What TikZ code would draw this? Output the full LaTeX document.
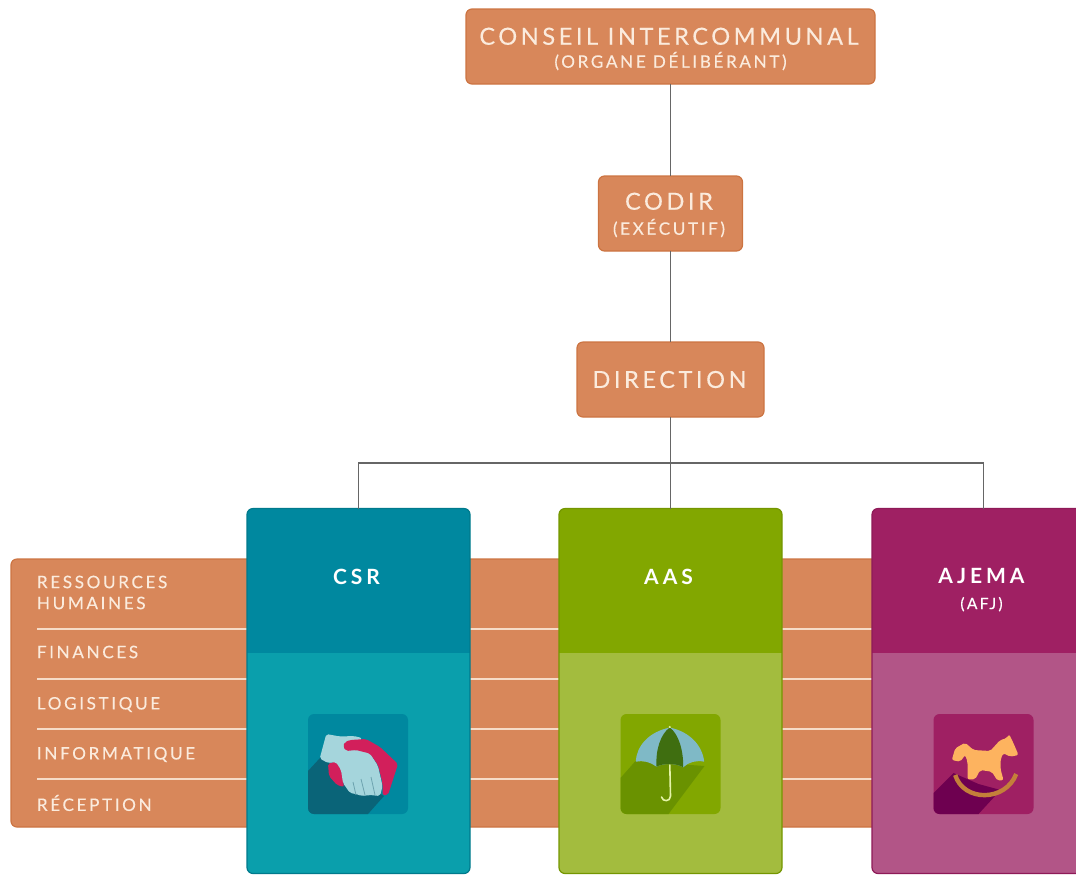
\documentclass[tikz,border=0pt]{standalone}
\usepackage{fontspec}
\setmainfont{Lato}
\newfontfamily\widefont[LetterSpace=15,FakeBold=0.2]{Lato}
\newfontfamily\titlefont[LetterSpace=19]{Lato Bold}
\usepackage{tikz}
\usetikzlibrary{positioning}
\definecolor{orgfill}{HTML}{D8875A}
\definecolor{orgedge}{HTML}{CC7442}
\definecolor{orgtext}{HTML}{FBEBDD}
\definecolor{orgline}{HTML}{F6DCC8}
\definecolor{linkgray}{HTML}{666666}
\definecolor{csrhead}{HTML}{00889F}
\definecolor{csrbody}{HTML}{0A9FAC}
\definecolor{csredge}{HTML}{007A8C}
\definecolor{csrshade}{HTML}{0A6478}
\definecolor{csrhand}{HTML}{A5D5DC}
\definecolor{csrred}{HTML}{D21F5B}
\definecolor{aashead}{HTML}{82A700}
\definecolor{aasbody}{HTML}{A3BC3E}
\definecolor{aasedge}{HTML}{749600}
\definecolor{aasshade}{HTML}{6A9200}
\definecolor{aasblue}{HTML}{7FB9C6}
\definecolor{aasdark}{HTML}{3F6E10}
\definecolor{aashandle}{HTML}{E4F3A8}
\definecolor{ajemahead}{HTML}{9F2063}
\definecolor{ajemabody}{HTML}{B25587}
\definecolor{ajemaedge}{HTML}{8E1A58}
\definecolor{ajemashade}{HTML}{6E0050}
\definecolor{ajemahorse}{HTML}{FDB35F}
\definecolor{ajemarock}{HTML}{C47F3A}
\tikzset{
	orgbox/.style={draw=orgedge, line width=0.6pt, outer sep=0pt, fill=orgfill, rounded corners=3pt, inner sep=0pt, align=center, minimum height=37.5pt, text=orgtext, font=\widefont\fontsize{11.8}{14}\selectfont},
	rowlabel/.style={anchor=west, inner sep=0pt, align=left, text=orgtext, font=\widefont\fontsize{8.6}{10.5}\selectfont},
	rowline/.style={orgline, line width=0.6pt},
	link/.style={linkgray, line width=0.75pt},
	columnbox/.style n args={2}{draw=#2, line width=0.6pt, outer sep=0pt, fill=#1, rounded corners=3pt, inner sep=0pt, minimum width=111.5pt, minimum height=182.5pt},
	headarea/.style={path picture={\fill[#1, sharp corners] (path picture bounding box.north west) rectangle ([yshift=-72pt]path picture bounding box.north east);}},
	coltitle/.style={inner sep=0pt, align=center, text=white, font=\titlefont\fontsize{10.5}{13.5}\selectfont},
}
\begin{document}
\begin{tikzpicture}[x=0.5pt, y=-0.5pt]
	\path[use as bounding box, clip] (0,0) rectangle (1076,874);
	% Band behind the columns
	\node[draw=orgedge, line width=0.6pt, outer sep=0pt, fill=orgfill, rounded corners=3pt, anchor=north west, minimum width=444.5pt, minimum height=134pt] (band) at (11,559) {};
	\foreach \rowy in {629,679,729,779}
		\draw[rowline] (37,\rowy) -- (900,\rowy);
	\node[rowlabel] (rh) at (36.5,592.5) {RESSOURCES\\HUMAINES};
	\node[rowlabel] (finances) at (36.5,652) {FINANCES};
	\node[rowlabel] (logistique) at (36.5,704.5) {LOGISTIQUE};
	\node[rowlabel] (informatique) at (36.5,754.5) {INFORMATIQUE};
	\node[rowlabel] (reception) at (36.5,803) {RÉCEPTION};
	% Boxes
	\node[orgbox, minimum width=204.5pt] (conseil) at (670.5,46.5) {\rule{0pt}{11pt}\hspace{-1.5pt}CONSEIL INTERCOMMUNAL\\[-2.5pt]{\fontsize{8.6}{10}\selectfont (ORGANE DÉLIBÉRANT)}};
	\node[orgbox, minimum width=72pt, below=46pt of conseil] (codir) {\rule{0pt}{10pt}\hspace{-1.5pt}CODIR\\[-1.5pt]{\fontsize{8.6}{10}\selectfont \hspace{-1.5pt}(EXÉCUTIF)}};
	\node[orgbox, minimum width=93.5pt, below=45.5pt of codir] (direction) {\hspace{-1pt}DIRECTION};
	% Columns
	\node[columnbox={csrbody}{csredge}, headarea=csrhead, anchor=north west] (csr) at (247,508.5) {};
	\node[columnbox={aasbody}{aasedge}, headarea=aashead, right=44.5pt of csr] (aas) {};
	\node[columnbox={ajemabody}{ajemaedge}, headarea=ajemahead, right=45pt of aas] (ajema) {};
	\node[coltitle] (csrtitle) at ([xshift=-1pt,yshift=-34pt]csr.north) {CSR};
	\node[coltitle] (aastitle) at ([xshift=-1pt,yshift=-34pt]aas.north) {AAS};
	\node[coltitle, anchor=north] (ajematitle) at ([xshift=-1pt,yshift=-29.5pt]ajema.north) {AJEMA\\[-0.5pt]{\widefont\fontsize{7.8}{10}\selectfont (AFJ)}};
	% Connections
	\coordinate (bus) at (direction.south |- 0,463);
	\draw[link] (conseil) -- (codir);
	\draw[link] (codir) -- (direction);
	\draw[link] (direction) -- (aas.north);
	\draw[link] (bus) -| (csr.north);
	\draw[link] (bus) -| (ajema.north);
	% Icon CSR
	\begin{scope}[shift={(308,714)}]
		\fill[csrhead, rounded corners=3pt] (0,0) rectangle (100,100);
		\begin{scope}
			\clip[rounded corners=3pt] (0,0) rectangle (100,100);
			\fill[csrshade] (12,44) -- (0,57) -- (0,100) -- (60,100) -- (76,82) -- cycle;
		\end{scope}
		\fill[csrred, rounded corners=1pt] (20,49.5) -- (28,47.5) -- (33,54) -- (36,73) -- (29,71) -- (21,62) -- cycle;
		\fill[csrhand, rounded corners=1pt] (18.3,20) -- (11.7,44.5) -- (20,49) -- (28,48) -- (33,56) -- (35,69) -- (42,79) -- (48,80) -- (54,82) -- (62,81) -- (72,82) -- (74.5,72) -- (70,52) -- (62,39) -- (50,30) -- (54,24) -- (46,22) -- (32,22.5) -- cycle;
		\fill[csrred, rounded corners=1pt] (35,32) -- (37,28) -- (42,26) -- (58,25) -- (72,33) -- (90,50) -- (80,81) -- (74.5,81) -- (74.5,69) -- (70,51) -- (62,39.5) -- (48,36) -- (38,37) -- cycle;
		\draw[csrshade!60!white, line width=0.4pt] (45,68) -- (48,81) (53,65) -- (57,81) (63,63) -- (67,81);
	\end{scope}
	% Icon AAS
	\begin{scope}[shift={(620.5,714)}]
		\fill[aashead, rounded corners=3pt] (0,0) rectangle (100,100);
		\begin{scope}
			\clip[rounded corners=3pt] (0,0) rectangle (100,100);
			\fill[aasshade] (15,47) -- (0,64) -- (0,100) -- (48,100) -- (84,52) -- cycle;
		\end{scope}
		\fill[aasblue] (49.3,13.5) .. controls (28,18) and (16,32) .. (15.3,47.7) .. controls (22,46) and (30,48) .. (36,52.7) .. controls (42,49) and (56,49) .. (62.7,53.3) .. controls (68,48) and (76,46) .. (83.7,47.7) .. controls (82,32) and (70,18) .. (49.3,13.5) -- cycle;
		\fill[aasdark] (49.3,13.5) .. controls (40,20) and (35,36) .. (36,52.7) .. controls (42,49) and (56,49) .. (62.7,53.3) .. controls (63,36) and (58,20) .. (49.3,13.5) -- cycle;
		\draw[aashandle, line width=0.8pt, line cap=round] (49.3,51) -- (50,82) .. controls (50,88) and (42,88) .. (41,83);
		\fill[aashandle] (49.3,13) circle (1.2);
	\end{scope}
	% Icon AJEMA
	\begin{scope}[shift={(933.5,714)}]
		\fill[ajemahead, rounded corners=3pt] (0,0) rectangle (100,100);
		\begin{scope}
			\clip[rounded corners=3pt] (0,0) rectangle (100,100);
			\fill[ajemashade] (20,59) -- (0,79) -- (0,100) -- (45,100) -- (67,76) -- (45,70) -- cycle;
		\end{scope}
		\draw[ajemarock, line width=2.2pt] (21.7,61) .. controls (30,88) and (72,88) .. (82.7,60);
		\fill[ajemahorse, rounded corners=1pt] (75.7,20.3) -- (80,29.3) -- (85,41) -- (76.7,42.7) -- (70,39.3) -- (67.3,44.3) -- (67,55) -- (70,66) -- (64,66.7) -- (58.3,57.7) -- (46.7,56) -- (41.7,65.3) -- (34,65.3) -- (34,47.7) -- (31.7,41) -- (26.7,47.7) -- (18.3,46) -- (21.7,34.3) -- (31.7,28.7) -- (40,36) -- (56.7,37) -- (66.7,26) -- (73,24.3) -- cycle;
	\end{scope}
\end{tikzpicture}
\end{document}
